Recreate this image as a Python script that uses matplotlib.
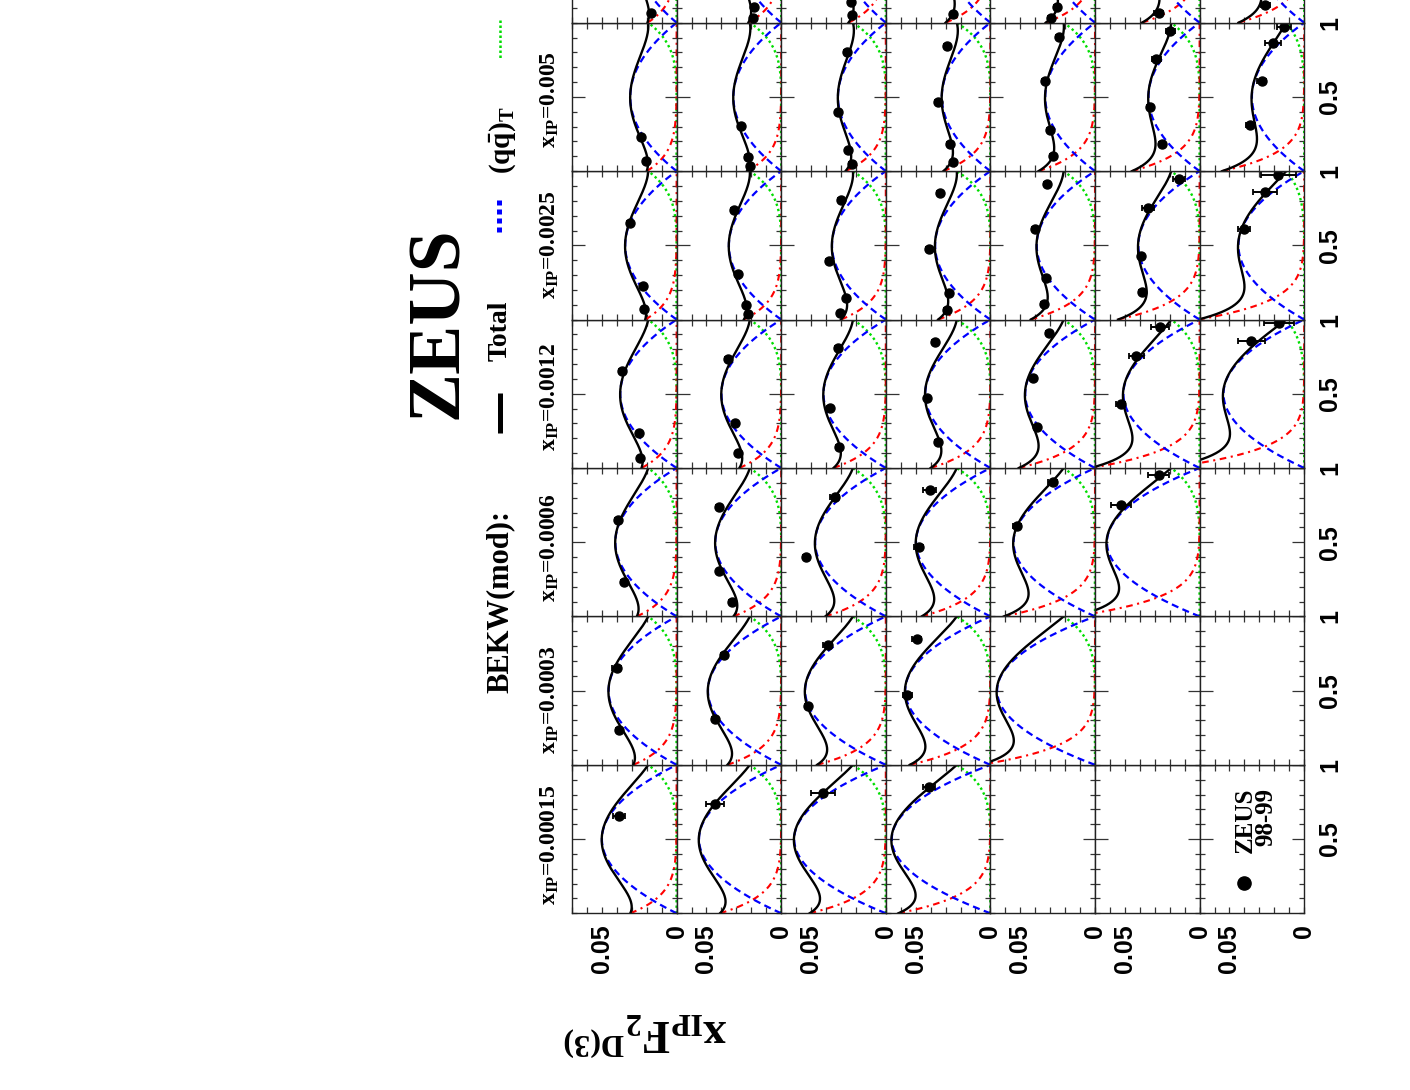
import numpy as np
import matplotlib
matplotlib.use('Agg')
import matplotlib.pyplot as plt
from matplotlib.ticker import MultipleLocator, FixedLocator

plt.rcParams['mathtext.fontset'] = 'custom'
plt.rcParams['mathtext.rm'] = 'Liberation Serif:bold'
plt.rcParams['mathtext.it'] = 'Liberation Serif:bold'
plt.rcParams['mathtext.bf'] = 'Liberation Serif:bold'

# ---------------- data ----------------
XIP_LABELS = ['0.00015', '0.0003', '0.0006', '0.0012', '0.0025', '0.005', '0.01']
N_ROWS = 7

# BEKW(mod) components per panel [row][x_IP column]; None = empty panel
# (qqbar)_T : value at beta = 0.5
T_PEAK = [
    [0.050, 0.0455, 0.041, 0.0377, 0.0344, 0.031, 0.029],
    [0.055, 0.049, 0.0441, 0.040, 0.035, 0.032, 0.030],
    [0.0613, 0.054, 0.0473, 0.0417, 0.036, 0.032, 0.030],
    [0.066, 0.057, 0.0498, 0.0436, 0.037, 0.0325, 0.031],
    [None, 0.0655, 0.0545, 0.0467, 0.039, 0.0333, 0.031],
    [None, None, 0.062, 0.051, 0.041, 0.0342, 0.032],
    [None, None, None, 0.054, 0.044, 0.035, 0.033],
]
# (qqbar g)_T : value at beta = 0
G_ZERO = [
    [0.031, 0.029, 0.0266, 0.0235, 0.021, 0.020, 0.0195],
    [0.041, 0.036, 0.032, 0.028, 0.025, 0.023, 0.022],
    [0.051, 0.046, 0.0405, 0.035, 0.030, 0.027, 0.025],
    [0.0616, 0.054, 0.046, 0.040, 0.035, 0.0315, 0.030],
    [None, 0.077, 0.061, 0.051, 0.043, 0.0378, 0.033],
    [None, None, 0.0845, 0.073, 0.0546, 0.0453, 0.0386],
    [None, None, None, 0.092, 0.071, 0.055, 0.044],
]
# (qqbar)_L : value at beta = 1, per Q2 row
L_ONE = [0.019, 0.021, 0.022, 0.0225, 0.021, 0.019, 0.012]

# ZEUS 98-99 data points
PT_ROW = ([0] * 14 + [1] * 18 + [2] * 18 + [3] * 17 + [4] * 15 + [5] * 14 + [6] * 10)
PT_COL = (
    [6, 5, 5, 4, 4, 4, 3, 3, 3, 2, 2, 1, 1, 0] +
    [6, 6, 5, 5, 5, 4, 4, 4, 4, 3, 3, 3, 2, 2, 2, 1, 1, 0] +
    [6, 6, 5, 5, 5, 5, 4, 4, 4, 4, 3, 3, 3, 2, 2, 1, 1, 0] +
    [6, 5, 5, 5, 5, 4, 4, 4, 4, 3, 3, 3, 2, 2, 1, 1, 0] +
    [6, 6, 5, 5, 5, 5, 4, 4, 4, 4, 3, 3, 3, 2, 2] +
    [6, 5, 5, 5, 5, 4, 4, 4, 4, 3, 3, 3, 2, 2] +
    [6, 5, 5, 5, 5, 4, 4, 4, 3, 3]
)
PT_BETA = (
    [0.067, 0.233, 0.066, 0.653, 0.229, 0.069, 0.653, 0.234, 0.065, 0.650, 0.234, 0.655, 0.233, 0.656] +
    [0.103, 0.029, 0.307, 0.098, 0.035, 0.738, 0.307, 0.098, 0.038, 0.732, 0.301, 0.103, 0.734, 0.307, 0.099,
     0.740, 0.309, 0.736] +
    [0.141, 0.052, 0.805, 0.397, 0.143, 0.046, 0.805, 0.397, 0.143, 0.047, 0.811, 0.402, 0.144, 0.807, 0.398,
     0.808, 0.399, 0.808] +
    [0.058, 0.846, 0.469, 0.183, 0.060, 0.850, 0.474, 0.181, 0.065, 0.851, 0.474, 0.177, 0.851, 0.469,
     0.848, 0.470, 0.849] +
    [0.103, 0.029, 0.906, 0.608, 0.278, 0.105, 0.911, 0.608, 0.278, 0.105, 0.912, 0.609, 0.278, 0.903, 0.609] +
    [0.063, 0.947, 0.753, 0.430, 0.184, 0.948, 0.750, 0.430, 0.183, 0.952, 0.755, 0.429, 0.953, 0.750] +
    [0.119, 0.974, 0.861, 0.608, 0.310, 0.974, 0.857, 0.608, 0.975, 0.858]
)
PT_F2 = (
    [0.0170, 0.0237, 0.0206, 0.0315, 0.0228, 0.0215, 0.0366, 0.0250, 0.0244, 0.0395, 0.0355, 0.0400, 0.0388, 0.0388] +
    [0.0181, 0.0186, 0.0268, 0.0224, 0.0206, 0.0314, 0.0286, 0.0235, 0.0219, 0.0357, 0.0308, 0.0290, 0.0419, 0.0414,
     0.0331, 0.0382, 0.0440, 0.0441] +
    [0.0232, 0.0227, 0.0261, 0.0321, 0.0250, 0.0228, 0.0301, 0.0383, 0.0265, 0.0305, 0.0321, 0.0372, 0.0316, 0.0343,
     0.0533, 0.0387, 0.0520, 0.0423] +
    [0.0247, 0.0291, 0.0352, 0.0269, 0.0247, 0.0340, 0.0414, 0.0280, 0.0291, 0.0369, 0.0421, 0.0352, 0.0407, 0.0480,
     0.0492, 0.0558, 0.0414] +
    [0.0255, 0.0293, 0.0238, 0.0333, 0.0300, 0.0278, 0.0322, 0.0400, 0.0329, 0.0344, 0.0311, 0.0416, 0.0389, 0.0282,
     0.0522] +
    [0.0275, 0.0197, 0.0291, 0.0335, 0.0249, 0.0135, 0.0348, 0.0390, 0.0386, 0.0264, 0.0424, 0.0527, 0.0275, 0.0526] +
    [0.0261, 0.0135, 0.0210, 0.0284, 0.0361, 0.0172, 0.0261, 0.0401, 0.0166, 0.0354]
)
PT_ERR = (
    [0.0015, 0.0015, 0.0015, 0.002, 0.0015, 0.0015, 0.002, 0.0015, 0.0015, 0.002, 0.0015, 0.003, 0.002, 0.004] +
    [0.0015, 0.0015, 0.0015, 0.0015, 0.0015, 0.002, 0.0015, 0.0015, 0.0015, 0.002, 0.0015, 0.0015, 0.002, 0.0015,
     0.0015, 0.002, 0.002, 0.006] +
    [0.0015, 0.0015, 0.002, 0.0015, 0.0015, 0.0015, 0.002, 0.0015, 0.0015, 0.0015, 0.002, 0.002, 0.0015, 0.003,
     0.002, 0.003, 0.002, 0.008] +
    [0.002, 0.002, 0.002, 0.002, 0.002, 0.002, 0.002, 0.002, 0.002, 0.002, 0.002, 0.002, 0.0045, 0.003,
     0.003, 0.003, 0.004] +
    [0.002, 0.002, 0.002, 0.002, 0.002, 0.002, 0.002, 0.002, 0.002, 0.002, 0.002, 0.002, 0.002, 0.003, 0.003] +
    [0.003, 0.003, 0.003, 0.002, 0.002, 0.004, 0.004, 0.002, 0.002, 0.006, 0.005, 0.003, 0.007, 0.0065] +
    [0.003, 0.005, 0.0055, 0.003, 0.003, 0.012, 0.008, 0.004, 0.010, 0.009]
)

# ---------------- layout (pixels of the 1410x1090 canvas) ----------------
W, H = 1410, 1090
X0, CELL_W = 572.0, 104.6
Y0_BOTTOM, CELL_H = 913.3, 148.43
F2_MAX = 0.07
LABEL_Y0, LABEL_PITCH = 905.0, 151.4

SERIF = 'Liberation Serif'
SANS = 'Liberation Sans'

fig = plt.figure(figsize=(W / 100, H / 100), dpi=100)
fig.patch.set_facecolor('white')

beta = np.linspace(0.0, 1.0, 401)
shape_T = 4.0 * beta * (1.0 - beta)
shape_G = (1.0 - beta) ** 8
shape_L = beta ** 3 * (1.0 - 2.0 * beta) ** 2

PT_ROW_A = np.array(PT_ROW)
PT_COL_A = np.array(PT_COL)
PT_BETA_A = np.array(PT_BETA)
PT_F2_A = np.array(PT_F2)
PT_ERR_A = np.array(PT_ERR)

for r in range(N_ROWS):
    for c in range(len(XIP_LABELS)):
        left = (X0 + CELL_W * r) / W
        bottom = (H - (Y0_BOTTOM - CELL_H * c)) / H
        ax = fig.add_axes([left, bottom, CELL_W / W, CELL_H / H])
        ax.set_xlim(F2_MAX, 0.0)
        ax.set_ylim(0.0, 1.0)
        for sp in ax.spines.values():
            sp.set_linewidth(1.0)
            sp.set_color('#222222')
        ax.xaxis.set_major_locator(FixedLocator([0.0, 0.05]))
        ax.xaxis.set_minor_locator(MultipleLocator(0.01))
        ax.yaxis.set_major_locator(FixedLocator([0.5, 1.0]))
        ax.yaxis.set_minor_locator(MultipleLocator(0.1))
        ax.tick_params(which='both', direction='in', top=True, bottom=True,
                       left=True, right=True, labelbottom=False, labelleft=False,
                       labeltop=False, labelright=False, color='#333333', width=0.9)
        ax.tick_params(axis='x', which='both', length=4.5)
        ax.tick_params(axis='y', which='major', length=9)
        ax.tick_params(axis='y', which='minor', length=3.5)
        if c == 0:
            ax.set_xticklabels(['0', '0.05'])
            ax.tick_params(axis='x', which='major', labelbottom=True, labelrotation=90,
                           pad=8, labelsize=18)
            for t in ax.get_xticklabels():
                t.set_fontfamily(SANS)
                t.set_fontweight('bold')
        if r == N_ROWS - 1 and c < len(XIP_LABELS) - 1:
            ax.set_yticklabels(['0.5', '1'])
            ax.tick_params(axis='y', which='major', labelright=True, labelrotation=90,
                           pad=10, labelsize=18)
            for t in ax.get_yticklabels():
                t.set_fontfamily(SANS)
                t.set_fontweight('bold')
                t.set_verticalalignment('center')

        tp = T_PEAK[r][c]
        if tp is not None:
            gz = G_ZERO[r][c]
            lo = L_ONE[r]
            fT = tp * shape_T
            fG = gz * shape_G
            fL = lo * shape_L
            ax.plot(fL, beta, color='#00dd00', lw=1.7, ls=(0, (1, 1.3)))
            ax.plot(fG, beta, color='#ff0000', lw=1.5, ls=(0, (3.2, 2.2, 1, 2.2)))
            ax.plot(fT, beta, color='#0000ff', lw=1.6, ls=(0, (3.2, 2.0)))
            ax.plot(fT + fG + fL, beta, color='black', lw=1.7)

        sel = (PT_ROW_A == r) & (PT_COL_A == c)
        if sel.any():
            ax.errorbar(PT_F2_A[sel], PT_BETA_A[sel], xerr=PT_ERR_A[sel], fmt='o',
                        color='black', ms=6.5, capsize=2.5, elinewidth=1.4,
                        capthick=1.3, zorder=5)

# ---------------- overlay for texts / legend (pixel coordinates) ----------------
ov = fig.add_axes([0, 0, 1, 1], zorder=10)
ov.set_xlim(0, W)
ov.set_ylim(H, 0)
ov.axis('off')
ov.patch.set_alpha(0)

ov.text(439, 419, 'ZEUS', rotation=90, ha='center', va='bottom',
        fontfamily=SERIF, fontweight='bold', fontsize=53)

ov.text(500, 693, 'BEKW(mod):', rotation=90, ha='center', va='bottom',
        fontfamily=SERIF, fontweight='bold', fontsize=22)
ov.plot([500, 500], [393, 433], color='black', lw=3.6, solid_capstyle='butt')
ov.text(500, 361, 'Total', rotation=90, ha='center', va='bottom',
        fontfamily=SERIF, fontweight='bold', fontsize=20)
ov.plot([499, 499], [200, 236], color='#0000ff', lw=3.6, ls=(0, (1, 0.8)),
        solid_capstyle='butt')
ov.text(503, 174, r'$\mathrm{(q\bar{q})_T}$', rotation=90, ha='center', va='bottom',
        fontsize=21)
ov.plot([500, 500], [20, 60], color='#00dd00', lw=1.8, ls=(0, (1, 1)))

for c, lab in enumerate(XIP_LABELS):
    ystart = LABEL_Y0 - LABEL_PITCH * c
    if ystart > 100:
        ov.text(550, ystart, r'$\mathrm{x_{IP}}$=' + lab, rotation=90, ha='center',
                va='bottom', fontfamily=SERIF, fontweight='bold', fontsize=17)

ov.text(645, 1032, r'$\mathrm{x_{IP}F_{2}{}^{D(3)}}$', rotation=180, ha='center',
        va='center', fontsize=33)

ov.plot([1244], [883], 'o', color='black', ms=9.5)
ov.text(1245, 853, 'ZEUS', rotation=90, ha='center', va='bottom',
        fontfamily=SERIF, fontweight='bold', fontsize=18)
ov.text(1266, 846, '98-99', rotation=90, ha='center', va='bottom',
        fontfamily=SERIF, fontweight='bold', fontsize=18)

fig.savefig('out.png', dpi=100)
